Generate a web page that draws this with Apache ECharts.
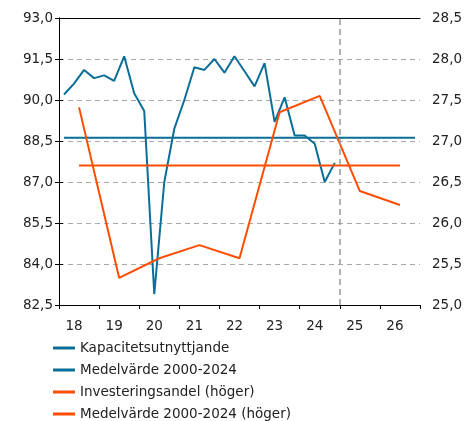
<!DOCTYPE html>
<html>
<head>
<meta charset="UTF-8">
<style>
	html, body { margin: 0; padding: 0; background: #fff; }
	#chart { width: 475px; height: 421px; }
</style>
</head>
<body>
	<div id="chart"></div>
	<script src="https://cdn.jsdelivr.net/npm/echarts@6/dist/echarts.min.js"></script>
<script>
	// years shown on the x axis (quarters 2018Q1 .. 2026Q4)
	var years = ['18', '19', '20', '21', '22', '23', '24', '25', '26'];

	// capacity utilisation, quarterly 2018Q1 .. 2024Q4 (left axis)
	var kapacitet = [
		90.2, 90.6, 91.1, 90.8,
		90.9, 90.7, 91.6, 90.25,
		89.6, 82.9, 87.0, 88.95,
		90.0, 91.2, 91.1, 91.5,
		91.0, 91.6, 91.05, 90.5,
		91.35, 89.2, 90.1, 88.7,
		88.7, 88.4, 87.0, 87.7
	];
	var kapacitetMedel = 88.62;

	// investment share, yearly 2018 .. 2026 (right axis)
	var investering = [27.41, 25.33, 25.57, 25.73, 25.57, 27.35, 27.55, 26.39, 26.22];
	var investeringMedel = 26.7;

	var blue = '#0a6e98';
	var orange = '#ff4d00';
	var txt = '#222';
	var font = 'DejaVu Sans';

	function fmt(v) {
		return v.toFixed(1).replace('.', ',');
	}

	var kapData = kapacitet.map(function (v, i) { return [i + 0.5, v]; });
	var invData = investering.map(function (v, i) { return [i * 4 + 2, v]; });

	var myChart = echarts.init(document.getElementById('chart'));
	myChart.setOption({
		animation: false,
		grid: {
			left: 59,
			right: 55,
			top: 18,
			bottom: 116
		},
		legend: {
			orient: 'vertical',
			left: 53,
			top: 341,
			height: 90,
			padding: 0,
			icon: 'rect',
			itemWidth: 22,
			itemHeight: 3,
			itemGap: 8,
			textStyle: {
				fontFamily: font,
				fontSize: 13.5,
				lineHeight: 14,
				color: txt
			},
			data: ['Kapacitetsutnyttjande', 'Medelvärde 2000-2024', 'Investeringsandel (höger)', 'Medelvärde 2000-2024 (höger)']
		},
		xAxis: [ {
			type: 'value',
			min: 0,
			max: 36,
			interval: 4,
			position: 'bottom',
			axisLine: { lineStyle: { color: '#000', width: 1 } },
			axisTick: { length: 4, lineStyle: { color: '#000' } },
			axisLabel: { show: false },
			splitLine: { show: false }
		}, {
			type: 'category',
			position: 'bottom',
			data: years,
			boundaryGap: true,
			axisLine: { show: false },
			axisTick: { show: false },
			axisLabel: {
				margin: 14,
				padding: [0, 10, 0, 0],
				fontFamily: font,
				fontSize: 13.5,
				color: txt
			}
		}, {
			type: 'value',
			min: 0,
			max: 36,
			position: 'top',
			axisLine: { lineStyle: { color: '#000', width: 1 } },
			axisTick: { show: false },
			axisLabel: { show: false },
			splitLine: { show: false }
		} ],
		yAxis: [ {
			type: 'value',
			min: 82.5,
			max: 93,
			interval: 1.5,
			axisLine: { show: true, lineStyle: { color: '#000' } },
			axisTick: { show: true, length: 4, lineStyle: { color: '#000' } },
			axisLabel: {
				margin: 6,
				formatter: fmt,
				fontFamily: font,
				fontSize: 13.5,
				color: txt
			},
			splitLine: {
				lineStyle: { color: '#aaa', type: [5, 4], width: 1.2 }
			}
		}, {
			type: 'value',
			min: 25,
			max: 28.5,
			interval: 0.5,
			position: 'right',
			axisLine: { show: true, lineStyle: { color: '#000' } },
			axisTick: { show: true, length: 4, lineStyle: { color: '#000' } },
			axisLabel: {
				margin: 12,
				formatter: fmt,
				fontFamily: font,
				fontSize: 13.5,
				color: txt
			},
			splitLine: { show: false }
		} ],
		series: [ {
			name: 'Kapacitetsutnyttjande',
			type: 'line',
			xAxisIndex: 0,
			yAxisIndex: 0,
			data: kapData,
			symbol: 'none',
			color: blue,
			lineStyle: { width: 2 },
			z: 3,
			markLine: {
				silent: true,
				symbol: 'none',
				label: { show: false },
				lineStyle: { color: '#999', type: [6, 4], width: 1.5 },
				data: [ { xAxis: 28 } ]
			}
		}, {
			name: 'Medelvärde 2000-2024',
			type: 'line',
			xAxisIndex: 0,
			yAxisIndex: 0,
			data: [[0.5, kapacitetMedel], [35.5, kapacitetMedel]],
			symbol: 'none',
			color: blue,
			lineStyle: { width: 2 },
			z: 3
		}, {
			name: 'Investeringsandel (höger)',
			type: 'line',
			xAxisIndex: 0,
			yAxisIndex: 1,
			data: invData,
			symbol: 'none',
			color: orange,
			lineStyle: { width: 2 },
			z: 3
		}, {
			name: 'Medelvärde 2000-2024 (höger)',
			type: 'line',
			xAxisIndex: 0,
			yAxisIndex: 1,
			data: [[2, investeringMedel], [34, investeringMedel]],
			symbol: 'none',
			color: orange,
			lineStyle: { width: 2 },
			z: 3
		} ]
	});
</script>
</body>
</html>
